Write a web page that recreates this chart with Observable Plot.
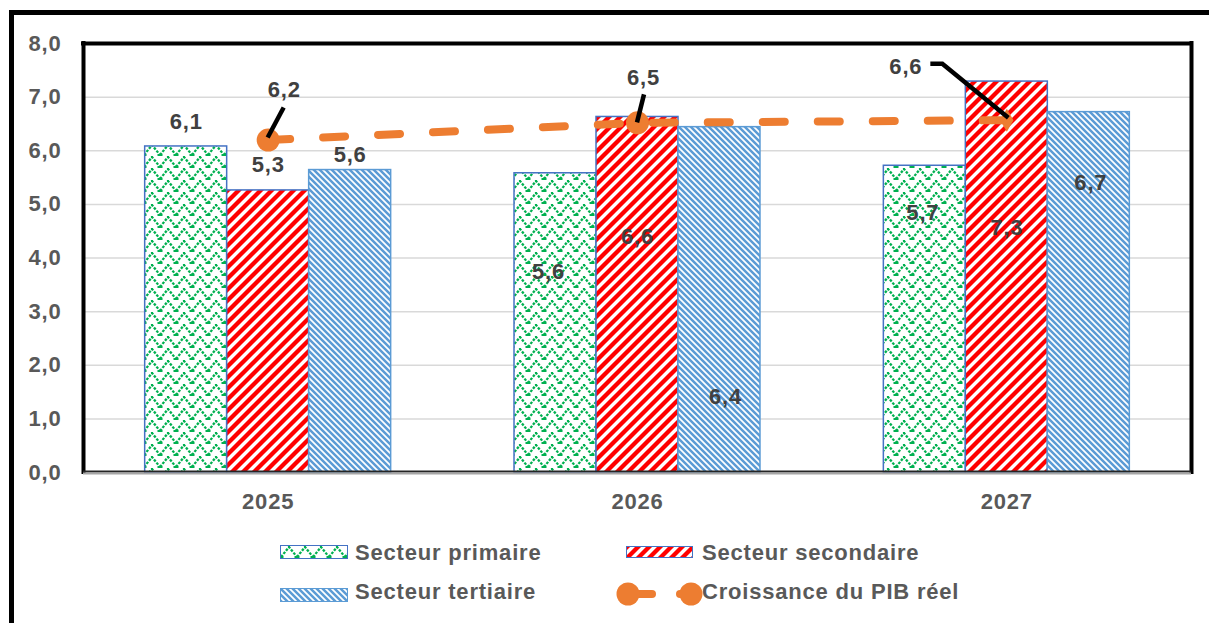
<!DOCTYPE html>
<html><head><meta charset="utf-8">
<script src="https://cdn.jsdelivr.net/npm/d3@7"></script>
<script src="https://cdn.jsdelivr.net/npm/@observablehq/plot@0.6"></script>
<style>
html,body{margin:0;padding:0;background:#fff;overflow:hidden;}
body{width:1209px;height:623px;position:relative;font-family:"Liberation Sans",Arial,sans-serif;}
#border{position:absolute;left:9px;top:10px;width:1300px;height:700px;border:5px solid #000;box-sizing:border-box;}
#chart{position:absolute;left:0;top:0;}
.lg{position:absolute;font-size:22px;line-height:22px;font-weight:bold;color:#595959;letter-spacing:0.8px;white-space:nowrap;}
.sw{position:absolute;box-sizing:border-box;border:1.5px solid #4472c4;}
</style>
</head><body>
<svg width="0" height="0" style="position:absolute;left:0;top:0">
  <defs>
    <pattern id="pPrim" width="16" height="12" patternUnits="userSpaceOnUse">
      <rect width="16" height="12" fill="#fff"/>
      <path d="M0,11 L8,1 L16,11" fill="none" stroke="#00b050" stroke-width="2.3" stroke-dasharray="2.6,1.4"/>
      <rect x="0" y="10" width="2.5" height="2" fill="#00b050"/>
      <rect x="13.5" y="10" width="2.5" height="2" fill="#00b050"/>
      <rect x="7" y="0" width="2" height="2" fill="#00b050"/>
    </pattern>
    <pattern id="pSec" width="11" height="11" patternUnits="userSpaceOnUse">
      <rect width="11" height="11" fill="#fff"/>
      <path d="M-1,12 L12,-1 M-3,3 L3,-3 M8,14 L14,8" stroke="#ff0000" stroke-width="4.3"/>
    </pattern>
    <pattern id="pTer" width="6" height="6" patternUnits="userSpaceOnUse">
      <rect width="6" height="6" fill="#fff"/>
      <path d="M-1,-1 L7,7 M-2,4 L2,8 M4,-2 L8,2" stroke="#5b9bd5" stroke-width="2.5"/>
    </pattern>
  </defs>
</svg>
<div id="border"></div>
<div id="chart"></div>
<div id="legend"></div>
<script>
// ---- data ----
const years = [2025, 2026, 2027];
const seriesNames = ["Secteur primaire", "Secteur secondaire", "Secteur tertiaire"];
const primaire = [6.08, 5.58, 5.72];
const secondaire = [5.26, 6.63, 7.29];
const tertiaire = [5.64, 6.44, 6.72];
const pibName = "Croissance du PIB réel";
const pib = [6.20, 6.52, 6.57];
const yTicks = [0, 1, 2, 3, 4, 5, 6, 7, 8];

// ---- layout / style ----
const xDomain = [2024.5, 2027.5];
const barSlot = 0.222; // width of one bar, in years
const seriesStyle = [
  {fill: "url(#pPrim)", stroke: "#4472c4"},
  {fill: "url(#pSec)", stroke: "#4472c4"},
  {fill: "url(#pTer)", stroke: "#5b9bd5"}
];
const barLabelDy = [[-25, -25, -15], [99, 120, 270], [47, 146, 71]];
const barLabelDx = [[0, 0, 0], [-7, 0, 6], [-2, 0, 2]];
const pibLabelOffset = [[16, -50], [6, -45], [-101, -53]];
const pibLeader = [[[0, -2], [16, -32]], [[0, 0], [7, -28]], [[2, -2], [-64, -56], [-76, -56]]];

const fmt = v => v.toFixed(1).replace(".", ",");
const seriesValues = [primaire, secondaire, tertiaire];
const bars = years.flatMap((year, i) => seriesValues.map((arr, s) => ({year, i, s, series: seriesNames[s], value: arr[i], label: fmt(arr[i])})));
const pibRows = years.map((year, i) => ({year, i, value: pib[i], label: fmt(pib[i])}));
const barCenter = d => d.year + (d.s - 1) * barSlot;

function leaders(index, scales) {
  const g = d3.create("svg:g").attr("fill", "none").attr("stroke", "#000").attr("stroke-width", 4.5);
  pibRows.forEach((d, i) => {
    const px = scales.x(d.year), py = scales.y(d.value);
    g.append("path").attr("d", d3.line()(pibLeader[i].map(([dx, dy]) => [px + dx, py + dy])));
  });
  return g.node();
}

const chart = Plot.plot({
  width: 1209, height: 525,
  marginLeft: 83, marginRight: 18, marginTop: 43, marginBottom: 53,
  style: {fontFamily: "'Liberation Sans', Arial, sans-serif", fontSize: "22px", fontWeight: "bold", letterSpacing: "0.8px", color: "#595959", background: "transparent", overflow: "visible"},
  x: {domain: xDomain, ticks: years, tickFormat: d => String(d), tickSize: 0, tickPadding: 21, label: null},
  y: {domain: [0, 8], ticks: yTicks, tickFormat: fmt, tickSize: 0, tickPadding: 22, label: null},
  marks: [
    Plot.ruleY(yTicks.filter(t => t > 0 && t < 8), {stroke: "#d9d9d9", strokeWidth: 1.5}),
    ...seriesNames.map((name, s) => Plot.rect(bars.filter(d => d.s === s), {
      x1: d => d.year + (d.s - 1.5) * barSlot,
      x2: d => d.year + (d.s - 0.5) * barSlot,
      y1: 0, y2: "value",
      fill: seriesStyle[s].fill, stroke: seriesStyle[s].stroke, strokeWidth: 1.5
    })),
    ...bars.map(d => Plot.text([d], {x: barCenter, y: "value", text: "label",
      dx: barLabelDx[d.i][d.s], dy: barLabelDy[d.i][d.s], fill: "#404040"})),
    Plot.line(pibRows, {x: "year", y: "value", stroke: "#ed7d31", strokeWidth: 8, strokeDasharray: "22,33", strokeLinecap: "round"}),
    Plot.dot(pibRows.slice(0, 2), {x: "year", y: "value", r: 11.5, fill: "#ed7d31"}),
    Plot.dot(pibRows.slice(2), {x: "year", y: "value", r: 7, symbol: "diamond", fill: "#ed7d31"}),
    leaders,
    ...pibRows.map((d, i) => Plot.text([d], {x: "year", y: "value", text: "label",
      dx: pibLabelOffset[i][0], dy: pibLabelOffset[i][1], fill: "#404040"})),
    Plot.ruleY([8], {stroke: "#000", strokeWidth: 4, strokeLinecap: "square"}),
    Plot.ruleX(xDomain, {stroke: "#000", strokeWidth: 4, strokeLinecap: "square"}),
    Plot.ruleY([0], {stroke: "#262626", strokeWidth: 2, dy: -1}),
    Plot.ruleY([0], {stroke: "#a6a6a6", strokeWidth: 2, dy: 1})
  ]
});
document.getElementById("chart").appendChild(chart);

// ---- legend ----
const legend = document.getElementById("legend");
function add(html) { legend.insertAdjacentHTML("beforeend", html); }
const swatchPos = [{l: 280, t: 545, w: 68, h: 14}, {l: 626, t: 546, w: 67, h: 12}, {l: 280, t: 588, w: 68, h: 14}];
const textPos = [{l: 355, t: 542}, {l: 702, t: 542}, {l: 355, t: 581}];
seriesNames.forEach((name, s) => {
  const p = swatchPos[s], q = textPos[s];
  add(`<svg class="sw" style="left:${p.l}px;top:${p.t}px;width:${p.w}px;height:${p.h}px;border-color:${seriesStyle[s].stroke}"><rect width="100%" height="100%" fill="${seriesStyle[s].fill}"/></svg>`);
  add(`<div class="lg" style="left:${q.l}px;top:${q.t}px">${name}</div>`);
});
add(`<svg style="position:absolute;left:610px;top:578px;width:95px;height:32px">
  <line x1="18" y1="16" x2="42" y2="16" stroke="#ed7d31" stroke-width="8" stroke-linecap="round"/>
  <line x1="70" y1="16" x2="80" y2="16" stroke="#ed7d31" stroke-width="8" stroke-linecap="round"/>
  <circle cx="18" cy="16" r="11.5" fill="#ed7d31"/>
  <circle cx="81" cy="16" r="11.5" fill="#ed7d31"/>
</svg>`);
add(`<div class="lg" style="left:702px;top:581px">${pibName}</div>`);
</script>
</body></html>
